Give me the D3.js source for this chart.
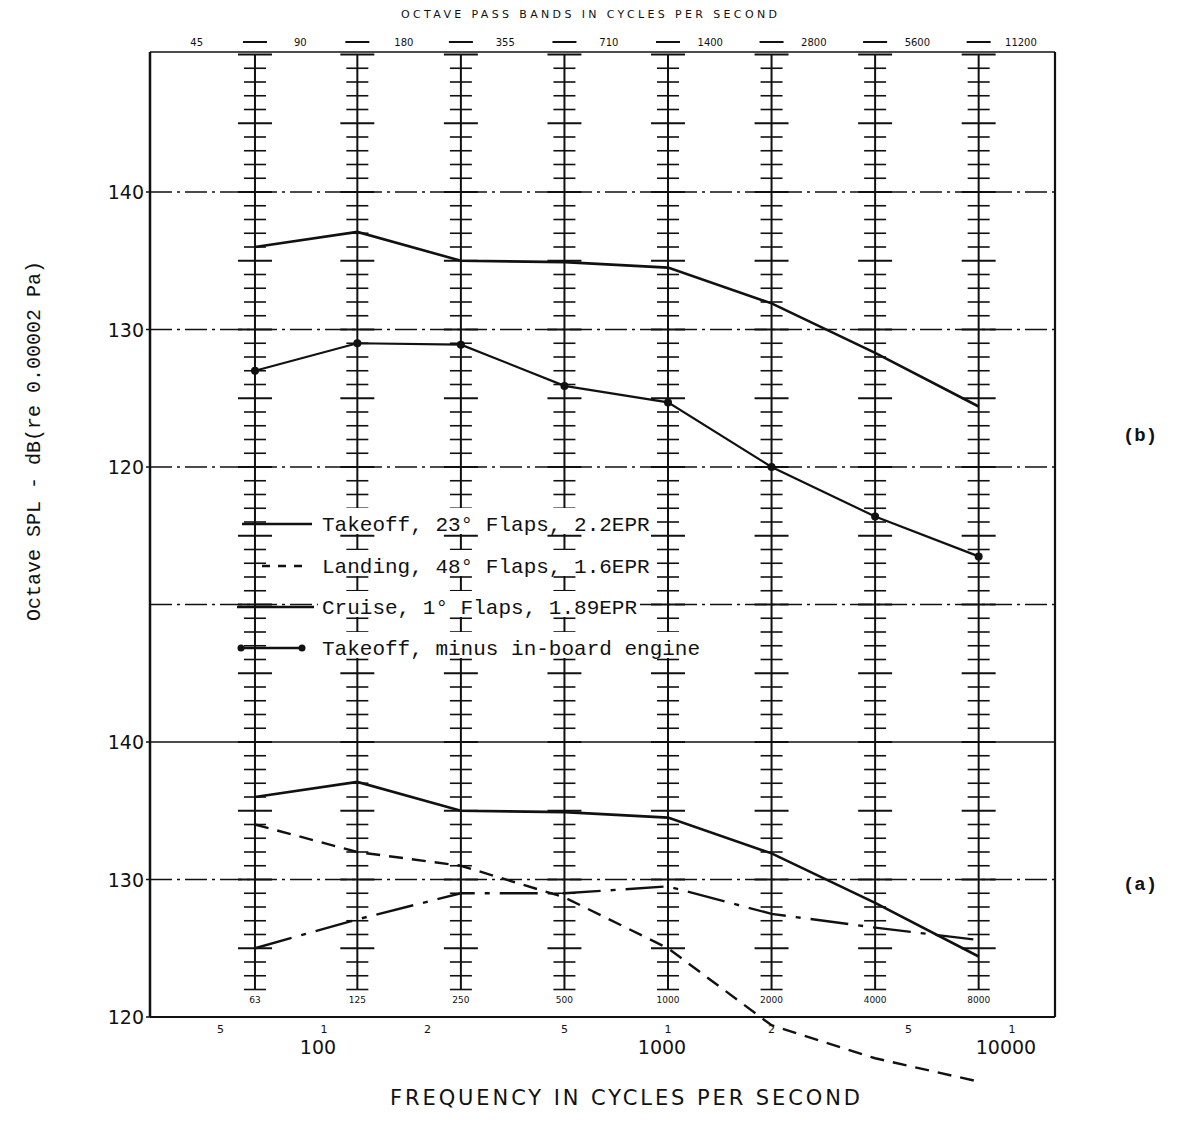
<!DOCTYPE html>
<html>
<head>
<meta charset="utf-8">
<script src="https://cdn.jsdelivr.net/npm/d3@7"></script>
<style>
  body { margin: 0; background: #fff; }
  text { fill: #111; }
</style>
</head>
<body>
<svg id="chart"></svg>
<script>
// Octave band centre frequencies (vertical graph lines)
const bands = [63, 125, 250, 500, 1000, 2000, 4000, 8000];
const bandLabels = ["63", "125", "250", "500", "1000", "2000", "4000", "8000"];

// Octave pass band edges (top row)
const bandEdges = [45, 90, 180, 355, 710, 1400, 2800, 5600, 11200];
const edgeLabels = ["45", "90", "180", "355", "710", "1400", "2800", "5600", "11200"];

// Series, dB per band
const takeoff = [136.0, 137.1, 135.0, 134.9, 134.5, 131.9, 128.3, 124.4];
const minusInboard = [127.0, 129.0, 128.9, 125.9, 124.7, 120.0, 116.4, 113.5];
const landing = [134.0, 132.0, 131.0, 128.7, 125.0, 119.4, 117.0, 115.3];
const cruise = [125.0, 127.1, 129.0, 129.0, 129.5, 127.5, 126.5, 125.6];

// Axis ticks
const yTicks = [120, 130, 140];
const majorFreq = [100, 1000, 10000];
const minorFreq = [50, 100, 200, 500, 1000, 2000, 5000, 10000];
const minorLabels = ["5", "1", "2", "5", "1", "2", "5", "1"];

// Chart dimensions
const Width = 1181;
const Height = 1131;
const Left = 150, Right = 1055, Top = 52, Bottom = 1017;
const ink = "#111";

const svg = d3.select("#chart")
  .attr("width", Width)
  .attr("height", Height);

// Scales
const x = d3.scaleLog().domain([1000, 10000]).range([668, 1012]);
const yB = d3.scaleLinear().domain([120, 140]).range([467, 192]); // upper panel (b)
const yA = d3.scaleLinear().domain([120, 140]).range([1017, 742]); // lower panel (a)

// Horizontal grid lines
const grid = svg.append("g");
[yB(140), yB(130), yB(120), yB(110), yA(130)].forEach(y => {
  grid.append("line")
    .attr("x1", Left).attr("x2", Right).attr("y1", y).attr("y2", y)
    .attr("stroke", ink).attr("stroke-width", 1.3)
    .attr("stroke-dasharray", "22,5,3,5");
});
grid.append("line")
  .attr("x1", Left).attr("x2", Right).attr("y1", yA(140)).attr("y2", yA(140))
  .attr("stroke", ink).attr("stroke-width", 1.6);

// Graph-paper verticals with 1 dB ticks
const ticksUpper = d3.range(100, 151);
const ticksLower = d3.range(122, 140);
const cols = svg.append("g")
  .selectAll("g")
  .data(bands)
  .enter()
  .append("g")
  .attr("transform", d => `translate(${x(d)},0)`);

cols.append("line")
  .attr("y1", yB(150)).attr("y2", yA(122))
  .attr("stroke", ink).attr("stroke-width", 2);

function drawTicks(sel, values, scale) {
  sel.selectAll(null)
    .data(values)
    .enter()
    .append("line")
    .attr("x1", v => v % 5 === 0 ? -17 : -11)
    .attr("x2", v => v % 5 === 0 ? 17 : 11)
    .attr("y1", v => scale(v)).attr("y2", v => scale(v))
    .attr("stroke", ink)
    .attr("stroke-width", v => v % 5 === 0 ? 2.2 : 1.6);
}
cols.each(function() {
  const g = d3.select(this);
  drawTicks(g, ticksUpper, yB);
  drawTicks(g, ticksLower, yA);
});

// Band centre labels just above bottom axis
cols.append("text")
  .attr("y", 1003)
  .attr("text-anchor", "middle")
  .style("font", "9px 'DejaVu Sans'")
  .text((d, i) => bandLabels[i]);

// Frame
svg.append("line").attr("x1", Left).attr("x2", Left).attr("y1", Top).attr("y2", Bottom)
  .attr("stroke", ink).attr("stroke-width", 2.5);
svg.append("line").attr("x1", Right).attr("x2", Right).attr("y1", Top).attr("y2", Bottom)
  .attr("stroke", ink).attr("stroke-width", 2.2);
svg.append("line").attr("x1", Left).attr("x2", Right).attr("y1", Top).attr("y2", Top)
  .attr("stroke", ink).attr("stroke-width", 1.6);
svg.append("line").attr("x1", Left).attr("x2", Right).attr("y1", Bottom).attr("y2", Bottom)
  .attr("stroke", ink).attr("stroke-width", 2);

// Left axis labels, both panels
const yLab = svg.append("g").style("font", "19px 'DejaVu Sans'");
[yB, yA].forEach(scale => {
  yTicks.forEach(t => {
    yLab.append("text")
      .attr("x", 144).attr("y", scale(t) + 7)
      .attr("text-anchor", "end")
      .text(t);
    yLab.append("line")
      .attr("x1", Left - 4).attr("x2", Left).attr("y1", scale(t)).attr("y2", scale(t))
      .attr("stroke", ink).attr("stroke-width", 1.5);
  });
});

// Bottom axis labels
svg.append("g").selectAll("text")
  .data(minorFreq)
  .enter()
  .append("text")
  .attr("x", d => x(d)).attr("y", 1033)
  .attr("text-anchor", "middle")
  .style("font", "11px 'DejaVu Sans'")
  .text((d, i) => minorLabels[i]);

svg.append("g").selectAll("text")
  .data(majorFreq)
  .enter()
  .append("text")
  .attr("x", d => x(d) - 6).attr("y", 1054)
  .attr("text-anchor", "middle")
  .style("font", "19px 'DejaVu Sans'")
  .text(d => d);

svg.append("text")
  .attr("x", 390).attr("y", 1105)
  .attr("textLength", 470)
  .style("font", "21px 'DejaVu Sans'")
  .text("FREQUENCY IN CYCLES PER SECOND");

// Top: octave pass band edges
svg.append("text")
  .attr("x", 401).attr("y", 18)
  .attr("textLength", 376)
  .style("font", "11px 'DejaVu Sans'")
  .text("OCTAVE PASS BANDS IN CYCLES PER SECOND");

svg.append("g").selectAll("text")
  .data(bandEdges)
  .enter()
  .append("text")
  .attr("x", d => x(d) - 8).attr("y", 46)
  .attr("text-anchor", "middle")
  .style("font", "10px 'DejaVu Sans'")
  .text((d, i) => edgeLabels[i]);

svg.append("g").selectAll("line")
  .data(bands)
  .enter()
  .append("line")
  .attr("x1", d => x(d) - 12).attr("x2", d => x(d) + 12)
  .attr("y1", 42).attr("y2", 42)
  .attr("stroke", ink).attr("stroke-width", 2);

// Y title
svg.append("text")
  .attr("transform", "translate(40,441) rotate(-90)")
  .attr("text-anchor", "middle")
  .style("font", "20px 'Liberation Mono'")
  .text("Octave SPL - dB(re 0.00002 Pa)");

// Panel tags
svg.append("text").attr("x", 1140).attr("y", 441).attr("text-anchor", "middle")
  .style("font", "bold 19px 'Liberation Mono'").text("(b)");
svg.append("text").attr("x", 1140).attr("y", 890).attr("text-anchor", "middle")
  .style("font", "bold 19px 'Liberation Mono'").text("(a)");

// Series lines
function drawSeries(values, scale, width, dash) {
  const line = d3.line()
    .x((d, i) => x(bands[i]))
    .y(d => scale(d));
  svg.append("path")
    .datum(values)
    .attr("d", line)
    .attr("fill", "none")
    .attr("stroke", ink)
    .attr("stroke-width", width)
    .attr("stroke-dasharray", dash);
}

// Panel (b)
drawSeries(takeoff, yB, 2.6, null);
drawSeries(minusInboard, yB, 2.2, null);
svg.append("g").selectAll("circle")
  .data(minusInboard)
  .enter()
  .append("circle")
  .attr("cx", (d, i) => x(bands[i]))
  .attr("cy", d => yB(d))
  .attr("r", 4)
  .attr("fill", ink);

// Panel (a)
drawSeries(takeoff, yA, 2.6, null);
drawSeries(landing, yA, 2.4, "14,9");
drawSeries(cruise, yA, 2.4, "38,10,5,10");

// Legend
const legend = svg.append("g").style("font", "21px 'Liberation Mono'");
const legendRows = [
  { y: 524, text: "Takeoff, 23° Flaps, 2.2EPR", dash: null, x1: 242, x2: 312 },
  { y: 566, text: "Landing, 48° Flaps, 1.6EPR", dash: "8,8", x1: 262, x2: 310 },
  { y: 607, text: "Cruise, 1° Flaps, 1.89EPR", dash: null, x1: 237, x2: 314 },
  { y: 648, text: "Takeoff, minus in-board engine", dash: null, x1: 241, x2: 302 }
];
legendRows.forEach((r, i) => {
  legend.append("rect")
    .attr("x", 318).attr("y", r.y - 16).attr("width", r.text.length * 12.6 + 6).attr("height", 26)
    .attr("fill", "#fff");
  legend.append("line")
    .attr("x1", r.x1).attr("x2", r.x2).attr("y1", r.y).attr("y2", r.y)
    .attr("stroke", ink).attr("stroke-width", 2.4)
    .attr("stroke-dasharray", r.dash);
  legend.append("text")
    .attr("x", 322).attr("y", r.y + 7)
    .text(r.text);
  if (i === 3) {
    [r.x1, r.x2].forEach(cx => legend.append("circle")
      .attr("cx", cx).attr("cy", r.y).attr("r", 3.5).attr("fill", ink));
  }
});
</script>
</body>
</html>
